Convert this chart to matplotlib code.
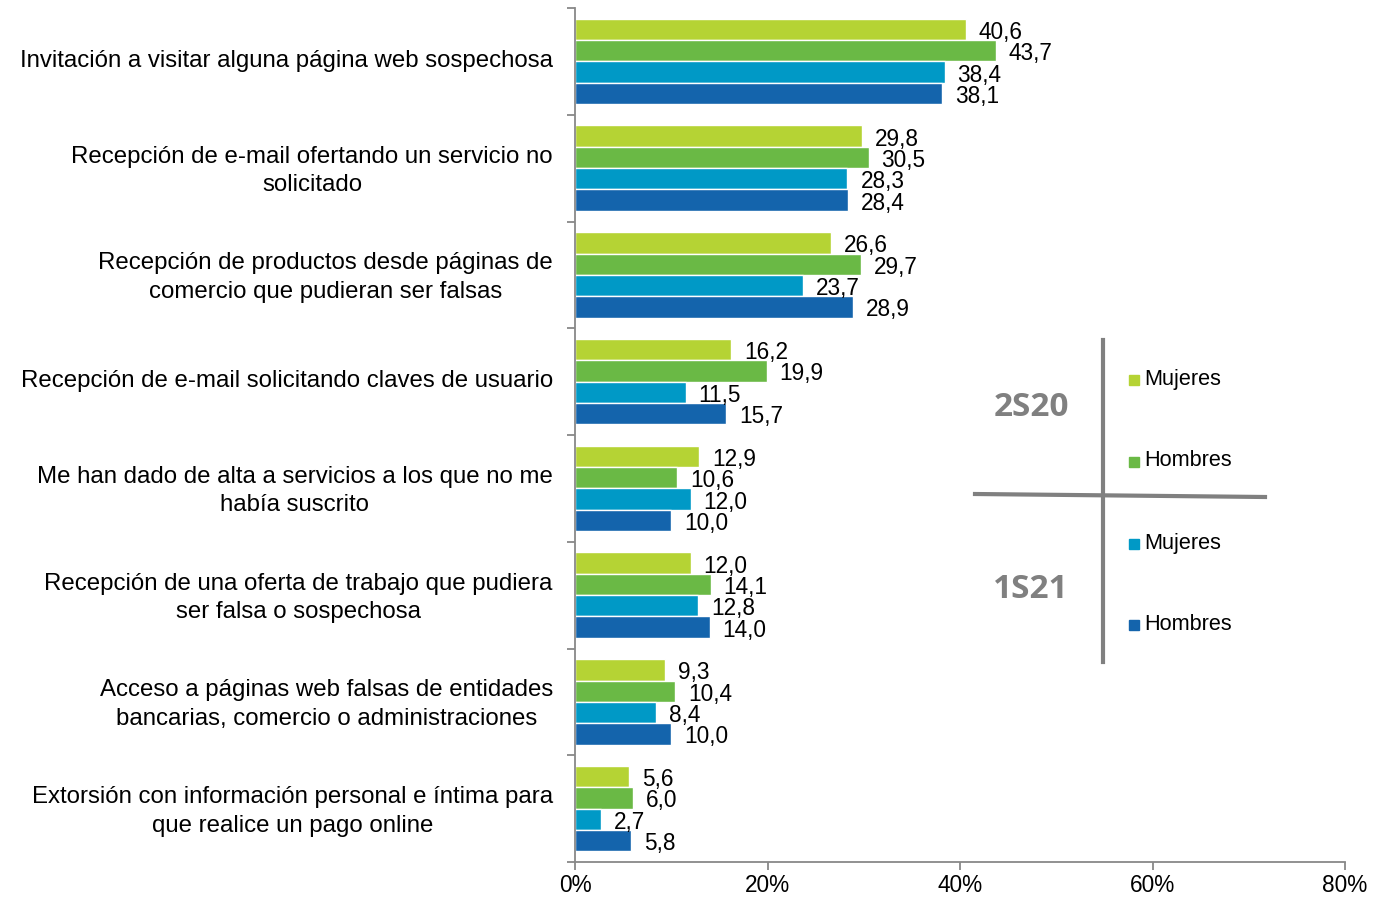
import matplotlib
matplotlib.use("Agg")
import matplotlib.pyplot as plt
from matplotlib.lines import Line2D
from matplotlib.transforms import ScaledTranslation
import numpy as np

plt.rcParams['font.family'] = ['Liberation Sans', 'DejaVu Sans']

categories = [
    "Invitación a visitar alguna página web sospechosa",
    "Recepción de e-mail ofertando un servicio no\nsolicitado",
    "Recepción de productos desde páginas de\ncomercio que pudieran ser falsas",
    "Recepción de e-mail solicitando claves de usuario",
    "Me han dado de alta a servicios a los que no me\nhabía suscrito",
    "Recepción de una oferta de trabajo que pudiera\nser falsa o sospechosa",
    "Acceso a páginas web falsas de entidades\nbancarias, comercio o administraciones",
    "Extorsión con información personal e íntima para\nque realice un pago online",
]
mujeres_2s20 = [40.6, 29.8, 26.6, 16.2, 12.9, 12.0, 9.3, 5.6]
hombres_2s20 = [43.7, 30.5, 29.7, 19.9, 10.6, 14.1, 10.4, 6.0]
mujeres_1s21 = [38.4, 28.3, 23.7, 11.5, 12.0, 12.8, 8.4, 2.7]
hombres_1s21 = [38.1, 28.4, 28.9, 15.7, 10.0, 14.0, 10.0, 5.8]
series = [mujeres_2s20, hombres_2s20, mujeres_1s21, hombres_1s21]
series_labels = ["Mujeres", "Hombres", "Mujeres", "Hombres"]
period_labels = ["2S20", "1S21"]
xticks = [0, 20, 40, 60, 80]
colors = ["#B5D334", "#6AB945", "#0099C6", "#1464AC"]

fig = plt.figure(figsize=(13.88, 8.98), dpi=100)
ax = fig.add_axes([575/1388, 1-862/898, (1345-575)/1388, (862-8)/898])

n = len(categories)
y = np.arange(n)
h = 0.2
offsets = [-0.3, -0.1, 0.1, 0.3]
for s, vals in enumerate(series):
    bars = ax.barh(y + offsets[s], vals, height=h, color=colors[s],
                   edgecolor="white", linewidth=1.0)
    for b, v in zip(bars, vals):
        ax.annotate(f"{v:.1f}".replace(".", ","),
                    xy=(b.get_width(), b.get_y() + b.get_height()/2),
                    xytext=(13, -3), textcoords="offset pixels",
                    ha="left", va="center", fontsize=16.3, color="black")

ax.set_xlim(0, 80)
ax.set_ylim(n - 0.5, -0.5)
ax.set_xticks(xticks)
ax.set_xticklabels([f"{t}%" for t in xticks], fontsize=16.3)
ax.set_yticks(y)
ax.set_yticklabels(categories, fontsize=17.3, multialignment="center", linespacing=1.38)
ax.set_yticks(np.arange(-0.5, n + 0.5, 1), minor=True)
ax.tick_params(axis="y", which="major", length=0, pad=16)
ax.tick_params(axis="y", which="minor", length=6, color="#888888", width=1.3)
ax.tick_params(axis="x", which="major", length=6, color="#888888", width=1.3, pad=3)
shift = ScaledTranslation(0, 3/100, fig.dpi_scale_trans)
for lab in ax.get_yticklabels():
    lab.set_transform(lab.get_transform() + shift)
for sp in ["top", "right"]:
    ax.spines[sp].set_visible(False)
for sp in ["left", "bottom"]:
    ax.spines[sp].set_color("#888888")
    ax.spines[sp].set_linewidth(1.3)

# custom legend
W, H = 1388, 898
def fx(px): return px / W
def fy(py): return 1 - py / H
gray = "#808080"
fig.add_artist(Line2D([fx(1103), fx(1103)], [fy(340), fy(662)], color=gray, lw=3))
fig.add_artist(Line2D([fx(975), fx(1265)], [fy(494), fy(497)], color=gray, lw=3))
fig.text(fx(1031), fy(408), period_labels[0], ha="center", va="center",
         fontsize=24, fontweight="bold", color=gray, family="Open Sans")
fig.text(fx(1031), fy(590), period_labels[1], ha="center", va="center",
         fontsize=24, fontweight="bold", color=gray, family="Open Sans")
leg_y = [379, 461, 543, 624]
for s in range(4):
    fig.add_artist(Line2D([fx(1134)], [fy(leg_y[s] + 1)], marker="s", markersize=7,
                          color=colors[s], linestyle="none"))
    fig.text(fx(1144), fy(leg_y[s]), series_labels[s], ha="left", va="center",
             fontsize=15.6, color="black")

fig.savefig("out.png", dpi=100, facecolor="white")
